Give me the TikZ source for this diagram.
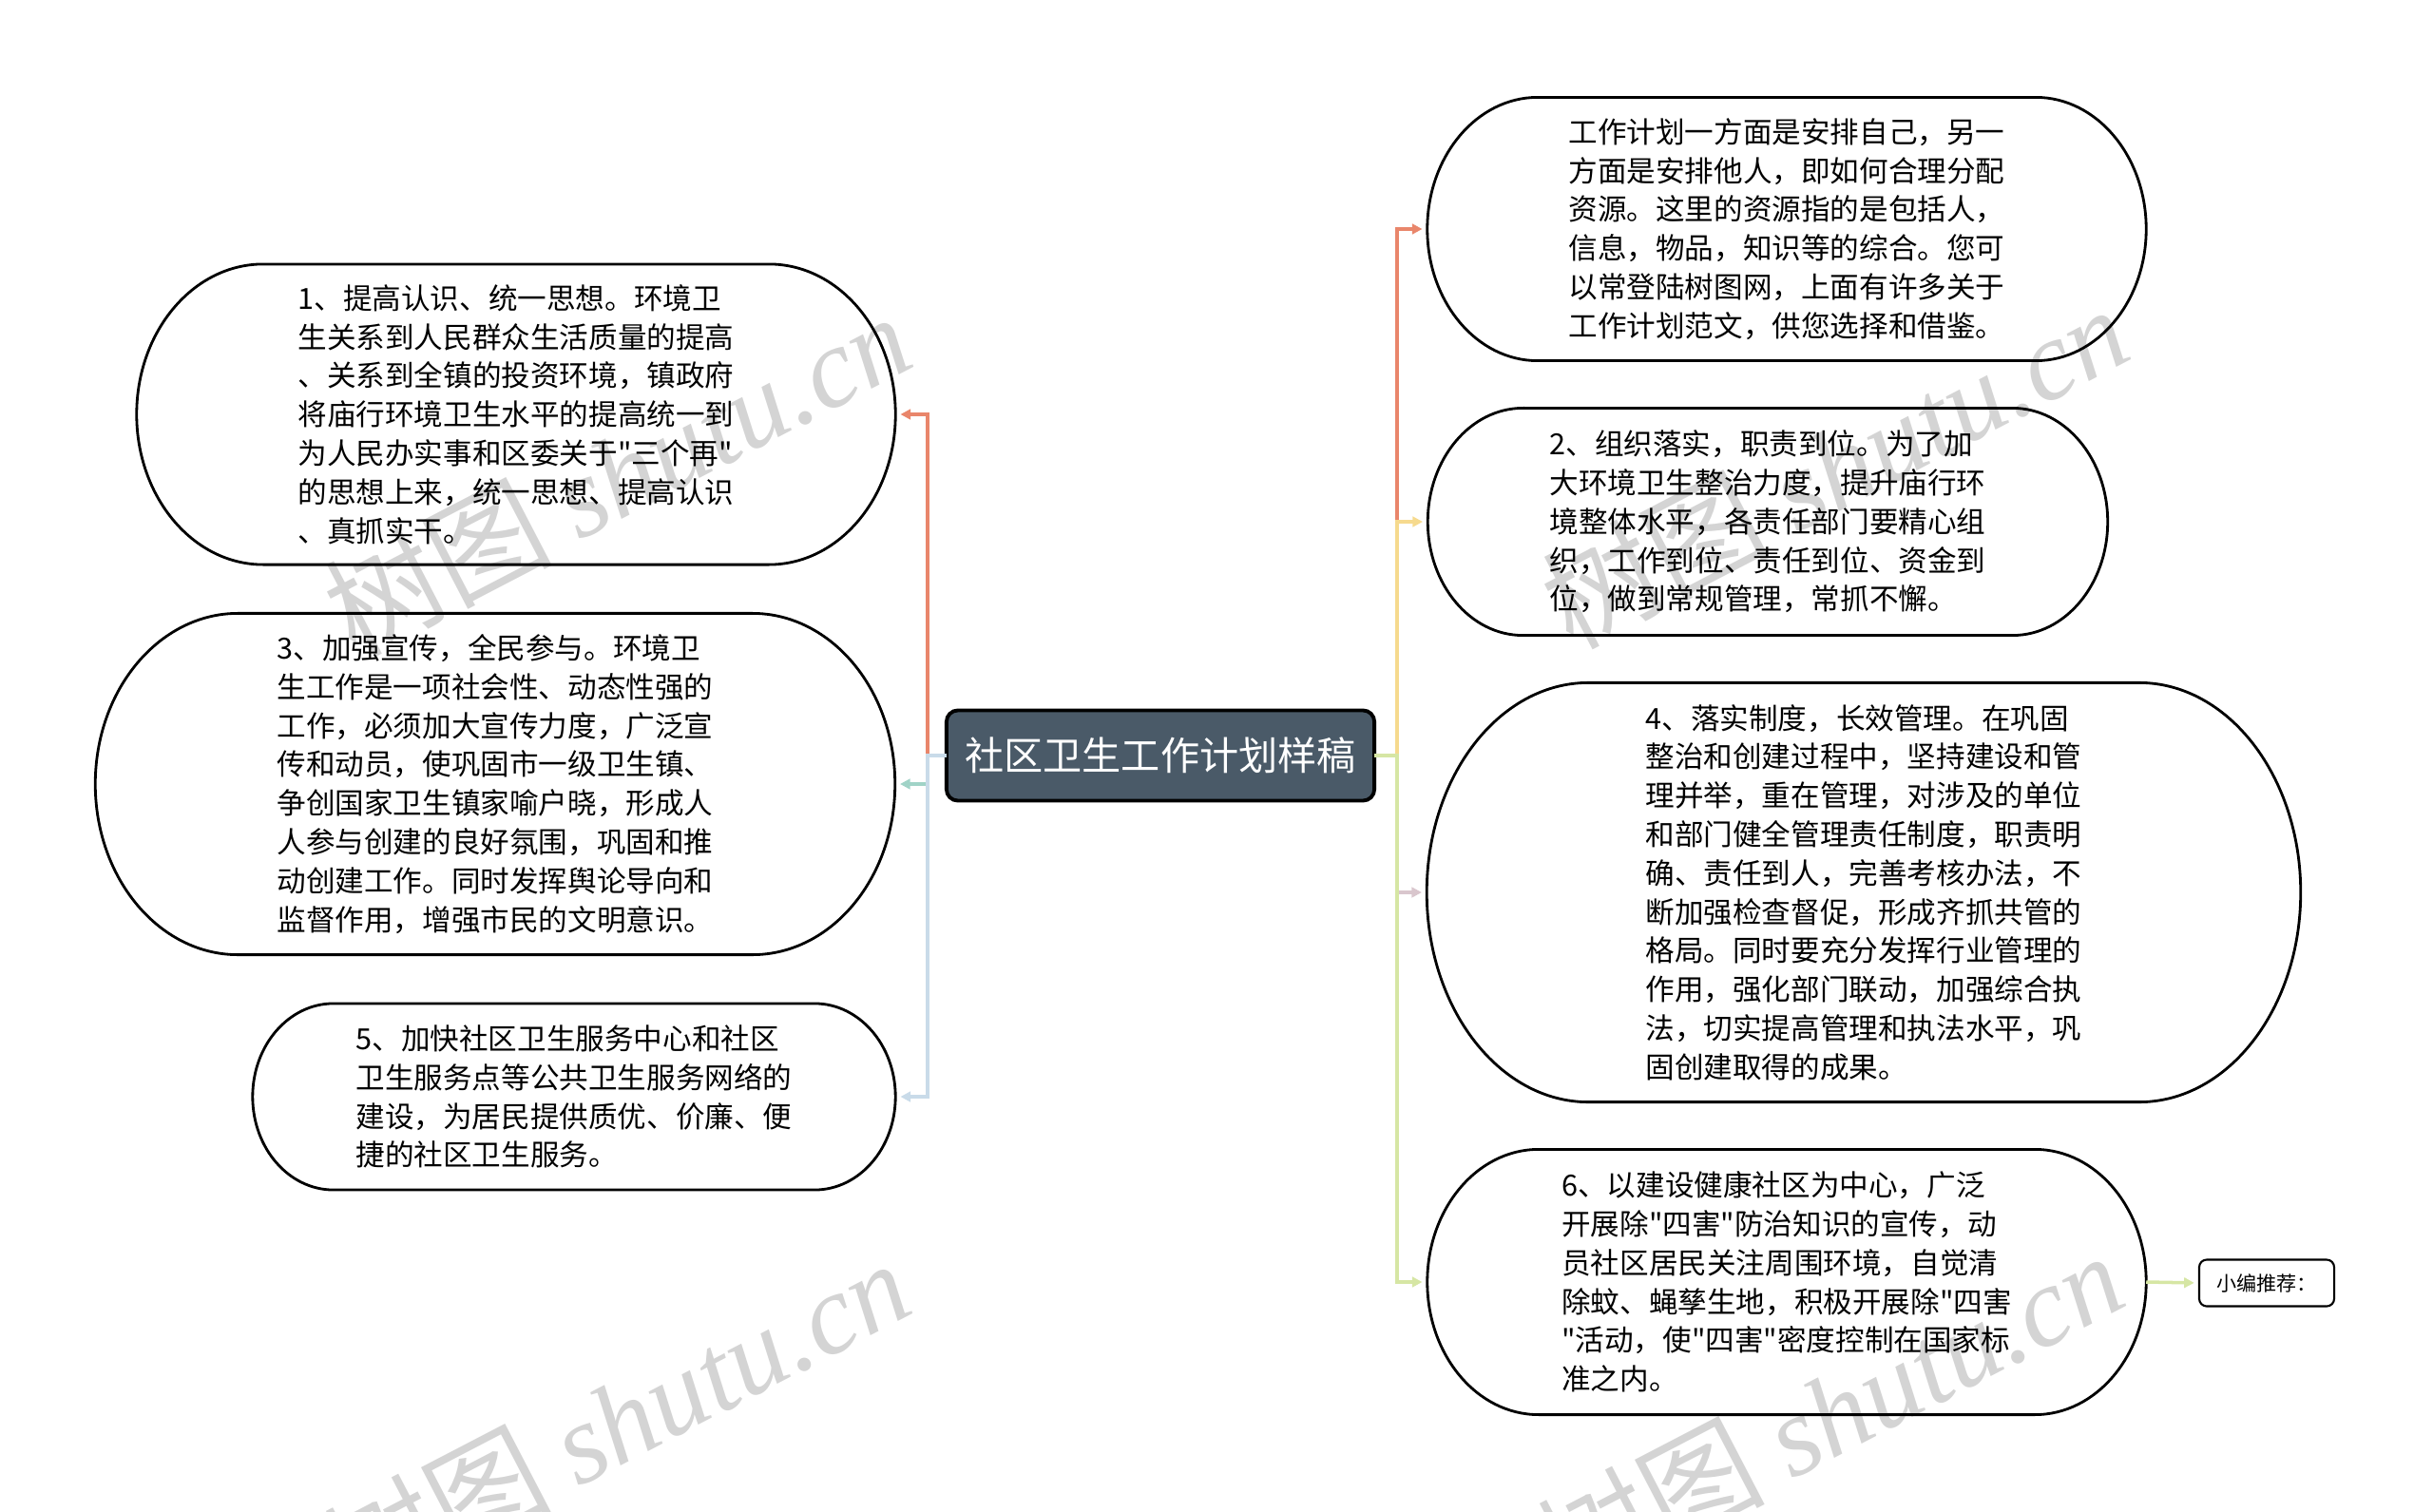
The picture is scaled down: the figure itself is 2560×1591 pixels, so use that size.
\documentclass[tikz,border=0pt]{standalone}
\usepackage{fontspec}
\setmainfont{Noto Sans CJK SC}[Ligatures=TeXOff]
\newfontfamily\wmlatin{Liberation Serif}
\usetikzlibrary{arrows.meta}
\definecolor{rootfill}{HTML}{4A5A68}
\definecolor{brRed}{HTML}{E9866B}
\definecolor{brYellow}{HTML}{F6DA8E}
\definecolor{brPink}{HTML}{D9C6CD}
\definecolor{brGreen}{HTML}{D6E6A4}
\definecolor{brTeal}{HTML}{A0D3C7}
\definecolor{brBlue}{HTML}{C9DBE9}
% outline with half-ellipse ends round a named node
\newcommand{\pillbox}[3]{\draw[line width=0.8pt] ([xshift=#2]#1.north west) -- ([xshift=-#2]#1.north east)
  arc[start angle=90,end angle=-90,x radius=#2,y radius=#3] -- ([xshift=#2]#1.south west)
  arc[start angle=270,end angle=90,x radius=#2,y radius=#3] -- cycle;}

\begin{document}
\begin{tikzpicture}[x=0.01cm,y=-0.01cm,
  pill/.style 2 args={minimum width=#1,minimum height=#2,inner sep=0pt,outer sep=0pt,align=left,font=\fontsize{8.7pt}{11.6pt}\selectfont},
  branch/.style={draw=#1,line width=1pt,-{Triangle[length=3pt,width=3pt]},shorten >=1.5pt},
  wmark/.style={text=black!17,rotate=27.5,font=\fontsize{34pt}{34pt}\selectfont}]
 \useasboundingbox (0,0) rectangle (2560,1591);
 % watermarks
 \node[wmark] (wm1) at (649,498) {树图 {\wmlatin\itshape shutu.cn}};
 \node[wmark] (wm2) at (648,1494) {树图 {\wmlatin\itshape shutu.cn}};
 \node[wmark] (wm3) at (1930,490) {树图 {\wmlatin\itshape shutu.cn}};
 \node[wmark] (wm4) at (1925,1486) {树图 {\wmlatin\itshape shutu.cn}};

 \node[fill=rootfill,draw=black,line width=1.1pt,rounded corners=0.12cm,minimum width=4.5cm,minimum height=0.95cm,outer sep=0pt,text=white,font=\fontsize{11.7pt}{14pt}\selectfont] (root) at (1221,795) {社区卫生工作计划样稿};
 \coordinate (lfork) at (976,795);
 \coordinate (rfork) at (1470,795);

 % left side
 \node[pill={7.98cm}{3.16cm}] (l1) at (543,436) {1、提高认识、统一思想。环境卫\\生关系到人民群众生活质量的提高\\、关系到全镇的投资环境，镇政府\\将庙行环境卫生水平的提高统一到\\为人民办实事和区委关于"三个再"\\的思想上来，统一思想、提高认识\\、真抓实干。};
 \node[pill={8.41cm}{3.59cm}] (l3) at (521,825) {3、加强宣传，全民参与。环境卫\\生工作是一项社会性、动态性强的\\工作，必须加大宣传力度，广泛宣\\传和动员，使巩固市一级卫生镇、\\争创国家卫生镇家喻户晓，形成人\\人参与创建的良好氛围，巩固和推\\动创建工作。同时发挥舆论导向和\\监督作用，增强市民的文明意识。};
 \node[pill={6.76cm}{1.96cm}] (l5) at (604,1154) {5、加快社区卫生服务中心和社区\\卫生服务点等公共卫生服务网络的\\建设，为居民提供质优、价廉、便\\捷的社区卫生服务。};
 \pillbox{l1}{1.33cm}{1.58cm}
 \pillbox{l3}{1.5cm}{1.795cm}
 \pillbox{l5}{0.85cm}{0.98cm}

 % right side
 \node[pill={7.56cm}{2.77cm}] (r1) at (1880,241) {工作计划一方面是安排自己，另一\\方面是安排他人，即如何合理分配\\资源。这里的资源指的是包括人，\\信息，物品，知识等的综合。您可\\以常登陆树图网，上面有许多关于\\工作计划范文，供您选择和借鉴。};
 \node[pill={7.15cm}{2.39cm}] (r2) at (1860,549) {2、组织落实，职责到位。为了加\\大环境卫生整治力度，提升庙行环\\境整体水平，各责任部门要精心组\\织，工作到位、责任到位、资金到\\位，做到常规管理，常抓不懈。};
 \node[pill={9.19cm}{4.41cm}] (r4) at (1961,939) {4、落实制度，长效管理。在巩固\\整治和创建过程中，坚持建设和管\\理并举，重在管理，对涉及的单位\\和部门健全管理责任制度，职责明\\确、责任到人，完善考核办法，不\\断加强检查督促，形成齐抓共管的\\格局。同时要充分发挥行业管理的\\作用，强化部门联动，加强综合执\\法，切实提高管理和执法水平，巩\\固创建取得的成果。};
 \node[pill={7.56cm}{2.79cm}] (r6) at (1880,1349) {6、以建设健康社区为中心，广泛\\开展除"四害"防治知识的宣传，动\\员社区居民关注周围环境，自觉清\\除蚊、蝇孳生地，积极开展除"四害\\"活动，使"四害"密度控制在国家标\\准之内。};
 \pillbox{r1}{1.16cm}{1.385cm}
 \pillbox{r2}{1.0cm}{1.195cm}
 \pillbox{r4}{1.7cm}{2.205cm}
 \pillbox{r6}{1.17cm}{1.395cm}
 \node[draw,line width=0.6pt,rounded corners=0.08cm,minimum width=1.42cm,minimum height=0.49cm,inner sep=0pt,outer sep=0pt,font=\fontsize{6pt}{7pt}\selectfont] (tip) at (2385,1350) {小编推荐：};

 % connectors
 \draw[branch=brRed] (root.west) -- (lfork) |- (l1.east);
 \draw[branch=brTeal] (root.west) -- (lfork) |- (l3.east);
 \draw[branch=brBlue] (root.west) -- (lfork) |- (l5.east);
 \draw[branch=brRed] (root.east) -- (rfork) |- (r1.west);
 \draw[branch=brYellow] (root.east) -- (rfork) |- (r2.west);
 \draw[branch=brPink] (root.east) -- (rfork) |- (r4.west);
 \draw[branch=brGreen] (root.east) -- (rfork) |- (r6.west);
 \draw[branch=brGreen] (r6.east) -- (tip.west);
\end{tikzpicture}
\end{document}
